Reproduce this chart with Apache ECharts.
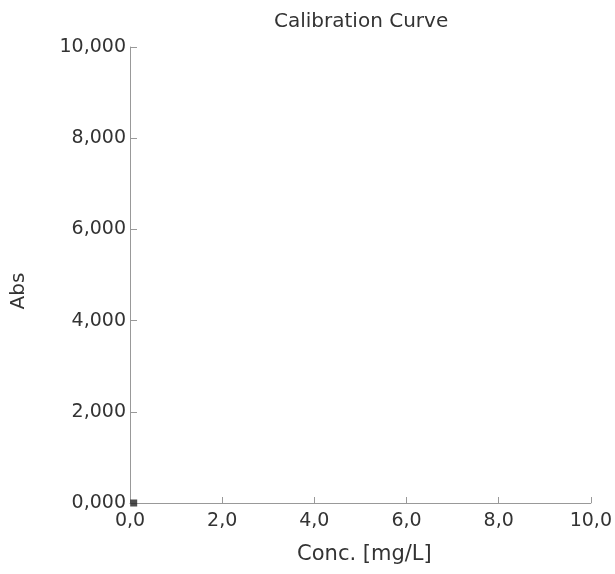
<!DOCTYPE html>
<html>
<head>
<meta charset="utf-8">
<script src="https://cdn.jsdelivr.net/npm/echarts@6/dist/echarts.min.js"></script>
<style>
html,body{margin:0;padding:0;background:#fff;}
#chart{width:615px;height:574px;}
</style>
</head>
<body>
<div id="chart"></div>
<script>
// Data
var chartTitle = 'Calibration Curve';
var xAxisName = 'Conc. [mg/L]';
var yAxisName = 'Abs';
var concValues = [0.08];
var absValues = [0.0];
var xTicks = [0, 2, 4, 6, 8, 10];
var yTicks = [0, 2, 4, 6, 8, 10];

var points = concValues.map(function (c, i) { return [c, absValues[i]]; });
var fontFam = 'DejaVu Sans';
var chart = echarts.init(document.getElementById('chart'));
chart.setOption({
  animation: false,
  backgroundColor: '#fff',
  title: {
    text: chartTitle,
    left: 269, top: 7,
    textStyle: { fontFamily: fontFam, fontSize: 20, fontWeight: 'normal', color: '#333' }
  },
  grid: { left: 130, right: 24, top: 47, bottom: 71 },
  xAxis: {
    type: 'value', min: xTicks[0], max: xTicks[xTicks.length - 1], interval: 2,
    name: xAxisName, nameLocation: 'middle', nameGap: 41,
    nameTextStyle: { fontFamily: fontFam, fontSize: 21, color: '#333', padding: [0, 0, 0, 8] },
    axisLine: { show: true, lineStyle: { color: '#999', width: 1 } },
    axisTick: { show: true, inside: true, length: 6, lineStyle: { color: '#999' } },
    splitLine: { show: false },
    axisLabel: {
      margin: 9, fontFamily: fontFam, fontSize: 19, color: '#333',
      formatter: function (v) { return v.toFixed(1).replace('.', ','); }
    }
  },
  yAxis: {
    type: 'value', min: yTicks[0], max: yTicks[yTicks.length - 1], interval: 2,
    name: yAxisName, nameLocation: 'middle', nameGap: 101, nameRotate: 90,
    nameTextStyle: { fontFamily: fontFam, fontSize: 20, color: '#333', padding: [0, 32, 0, 0] },
    axisLine: { show: true, lineStyle: { color: '#999', width: 1 } },
    axisTick: { show: true, inside: true, length: 7, lineStyle: { color: '#999' } },
    splitLine: { show: false },
    axisLabel: {
      margin: 4, fontFamily: fontFam, fontSize: 19, color: '#333',
      formatter: function (v) { return v.toFixed(3).replace('.', ','); }
    }
  },
  series: [{
    type: 'scatter', data: points, symbol: 'rect', symbolSize: 7,
    itemStyle: { color: '#222' }
  }]
});
</script>
</body>
</html>
